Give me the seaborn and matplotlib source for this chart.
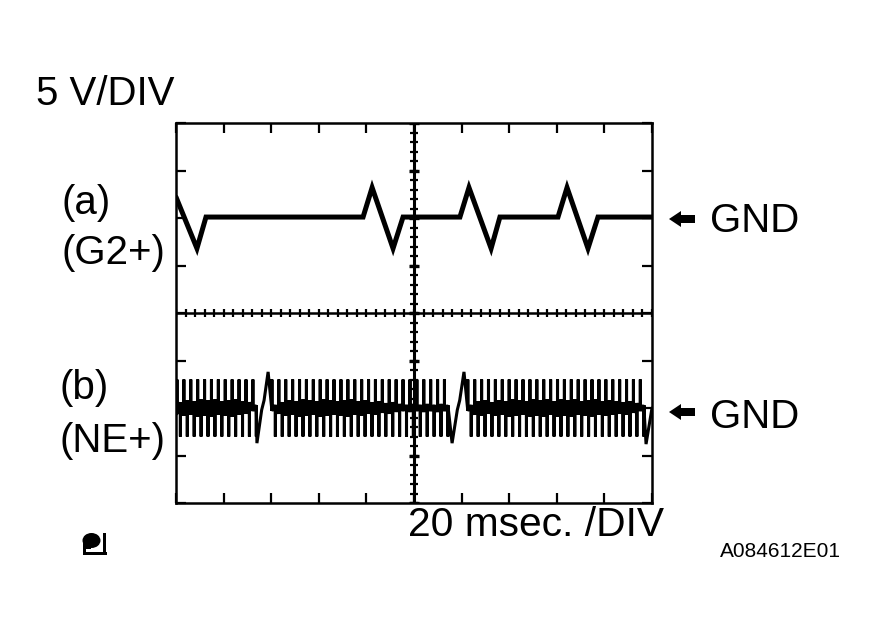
import numpy as np
import pandas as pd
import matplotlib
matplotlib.use("Agg")
import matplotlib.pyplot as plt
from matplotlib.patches import Ellipse, FancyArrow, Rectangle
from matplotlib.transforms import Affine2D
import seaborn as sns

sns.set_theme(style="white")
plt.rcParams["font.family"] = ["Liberation Sans", "DejaVu Sans"]

# Trace (a) G2+: time in ms (20 ms/div), volts (5 V/div, screen centre = 0)
g2_ms = [0.0, 8.8, 12.6, 78.6, 82.4, 91.2, 95.4, 119.3, 123.1, 132.4, 136.1,
         160.5, 164.3, 173.1, 177.3, 200.0]
g2_v = [12.2, 6.8, 10.1, 10.1, 13.2, 6.8, 10.1, 10.1, 13.2, 6.8, 10.1,
        10.1, 13.2, 6.8, 10.1, 10.1]

# Trace (b) NE+: three bursts of teeth, split by two glitches
ne_peak_ms_1 = [0.4, 3.3, 6.2, 9.1, 12.0, 14.9, 17.8, 20.7, 23.6, 26.5, 29.4, 32.3]
ne_peak_ms_2 = [40.3, 43.2, 46.1, 49.0, 51.9, 54.8, 57.7, 60.6, 63.5, 66.4, 69.3, 72.2, 75.1,
                78.0, 80.9, 83.8, 86.7, 89.6, 92.5, 95.4, 98.3, 101.2, 104.1, 107.0, 109.9, 112.8]
ne_peak_ms_3 = [122.6, 125.5, 128.4, 131.3, 134.2, 137.1, 140.0, 142.9, 145.8, 148.7, 151.6, 154.5, 157.4,
                160.3, 163.2, 166.1, 169.0, 171.9, 174.8, 177.7, 180.6, 183.5, 186.4, 189.3, 192.2, 195.1]
ne_band_1 = [0.6, 0.8, 0.7, 0.9, 0.8, 0.9, 0.7, 0.8, 0.9, 0.7, 0.6, 0.3]
ne_band_2 = [0.3, 0.6, 0.8, 0.7, 0.9, 0.8, 0.7, 0.9, 0.8, 0.7, 0.8, 0.9, 0.7,
             0.8, 0.6, 0.7, 0.5, 0.6, 0.4, 0.3, 0.4, 0.3, 0.4, 0.3, 0.4, 0.3]
ne_band_3 = [0.3, 0.7, 0.8, 0.6, 0.8, 0.7, 0.9, 0.8, 0.7, 0.9, 0.8, 0.9, 0.7,
             0.9, 0.8, 0.9, 0.7, 0.8, 0.9, 0.7, 0.8, 0.7, 0.6, 0.7, 0.5, 0.3]
ne_top_v = -7.0
ne_bottom_v = -13.0
ne_mid_v = -10.0
ne_half_period_ms = 1.45
glitch_1_ms = [34.0, 36.0, 37.0, 38.7]
glitch_2_ms = [116.0, 118.2, 119.2, 121.0]
glitch_v = [-13.7, -10.2, -9.2, -6.2]
end_ms = [197.5, 200.0]
end_v = [-13.8, -10.0]

# Screen grid
x_div_ms = [0, 20, 40, 60, 80, 100, 120, 140, 160, 180, 200]
y_div_v = [-20, -15, -10, -5, 0, 5, 10, 15, 20]


def burst(peaks, bands):
    xs, ys = [], []
    for p, b in zip(peaks, bands):
        t = p + ne_half_period_ms
        xs += [p, p, p, t, t, t]
        ys += [ne_mid_v - b, ne_top_v, ne_mid_v - b, ne_mid_v + b, ne_bottom_v, ne_mid_v + b]
    return xs, ys


x1, y1 = burst(ne_peak_ms_1, ne_band_1)
x2, y2 = burst(ne_peak_ms_2, ne_band_2)
x3, y3 = burst(ne_peak_ms_3, ne_band_3)
ne_ms = x1 + glitch_1_ms + x2 + glitch_2_ms + x3 + end_ms
ne_v = y1 + glitch_v + y2 + glitch_v + y3 + end_v

fig = plt.figure(figsize=(8.74, 6.31), dpi=100, facecolor="white")
ax = fig.add_axes([176 / 874, (631 - 503) / 631, 476 / 874, 380 / 631])

sns.lineplot(data=pd.DataFrame({"t": ne_ms, "v": ne_v}), x="t", y="v", sort=False, estimator=None,
             color="black", lw=2.2, ax=ax, zorder=3, solid_joinstyle="miter")
sns.lineplot(data=pd.DataFrame({"t": g2_ms, "v": g2_v}), x="t", y="v", sort=False, estimator=None,
             color="black", lw=3.6, ax=ax, zorder=3, solid_joinstyle="miter")

ax.set_xlim(0, 200)
ax.set_ylim(-20, 20)
ax.set_xlabel("")
ax.set_ylabel("")
ax.set_xticks(x_div_ms)
ax.set_yticks(y_div_v)
ax.tick_params(which="major", direction="in", length=7.2, width=1.6, color="black",
               top=True, bottom=True, left=True, right=True,
               labelleft=False, labelbottom=False)
for s in ax.spines.values():
    s.set_visible(True)
    s.set_color("black")
    s.set_linewidth(1.8)

# Centre cross with 0.2-div graduations
ax.axhline(0, color="black", lw=1.8, zorder=2)
ax.axvline(100, color="black", lw=2.2, zorder=2)
minor_x = np.arange(0, 201, 4)
minor_y = np.arange(-20, 21, 1)
ax.vlines(minor_x, -0.42, 0.42, color="black", lw=1.6, zorder=2)
ax.hlines(minor_y, 98.3, 101.7, color="black", lw=1.6, zorder=2)
ax.hlines(y_div_v, 97.9, 102.1, color="black", lw=2.4, zorder=2)

# Pixel-based annotation layer
px = Affine2D().scale(1, -1).translate(0, 631)
labels = [
    (36, 105, "5 V/DIV", 29), (62, 214, "(a)", 29), (62, 264, "(G2+)", 29),
    (59, 399, "(b)", 29), (59, 452, "(NE+)", 29), (710, 232, "GND", 29),
    (710, 428, "GND", 29), (408, 536, "20 msec. /DIV", 29.3), (720, 557, "A084612E01", 15),
]
for lx, ly, s, fs in labels:
    fig.text(lx, ly, s, transform=px, fontsize=fs, color="black", ha="left", va="baseline")

for ay in (219, 412):
    fig.add_artist(FancyArrow(695, ay, -26, 0, width=8, head_width=16, head_length=12,
                              length_includes_head=True, color="black", lw=0, transform=px))

# Small manual-reference icon at lower left
fig.add_artist(Ellipse((91.5, 540.5), 18, 15, color="black", lw=0, transform=px))
fig.add_artist(Rectangle((83, 540), 8, 9, color="black", lw=0, transform=px))
fig.add_artist(Rectangle((83, 549), 3, 6, color="black", lw=0, transform=px))
fig.add_artist(Rectangle((83, 552), 24, 3, color="black", lw=0, transform=px))
fig.add_artist(Rectangle((103, 533), 3, 20, color="black", lw=0, transform=px))

fig.savefig("out.png", dpi=100, facecolor="white")
